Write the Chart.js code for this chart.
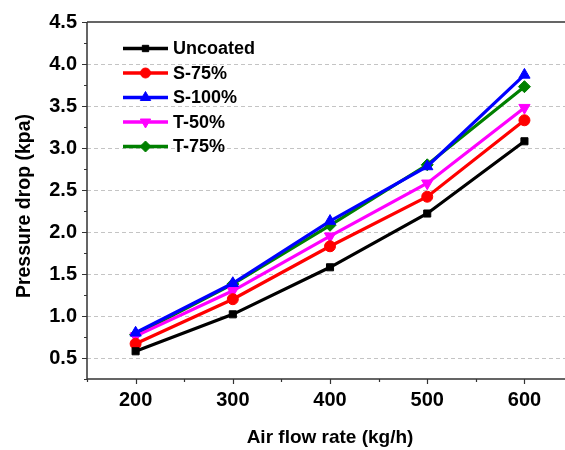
<!DOCTYPE html>
<html>
<head>
<meta charset="utf-8">
<script src="https://cdn.jsdelivr.net/npm/chart.js@4.4.1/dist/chart.umd.min.js"></script>
<style>
html,body{margin:0;padding:0;background:#fff;}
#wrap{width:565px;height:450px;position:relative;}
</style>
</head>
<body>
<div id="wrap"><canvas id="c" width="565" height="450"></canvas></div>
<script>
const airFlow = [200, 300, 400, 500, 600];
const uncoated = [0.58, 1.02, 1.58, 2.22, 3.08];
const s75 = [0.67, 1.20, 1.83, 2.42, 3.33];
const s100 = [0.80, 1.39, 2.13, 2.78, 3.87];
const t50 = [0.76, 1.30, 1.95, 2.58, 3.48];
const t75 = [0.78, 1.38, 2.08, 2.80, 3.73];
const seriesNames = ['Uncoated', 'S-75%', 'S-100%', 'T-50%', 'T-75%'];
const xTickLabels = [200, 300, 400, 500, 600];
const yTickLabels = [0.5, 1.0, 1.5, 2.0, 2.5, 3.0, 3.5, 4.0, 4.5];
const xTitle = 'Air flow rate (kg/h)';
const yTitle = 'Pressure drop (kpa)';

const FONT = "'Liberation Sans', Arial, sans-serif";
const styles = [
  {color: '#000000', pointStyle: 'rect', radius: 5, rotation: 0},
  {color: '#ff0000', pointStyle: 'circle', radius: 5.5, rotation: 0},
  {color: '#0000ff', pointStyle: 'triangle', radius: 6.5, rotation: 0},
  {color: '#ff00ff', pointStyle: 'triangle', radius: 6.5, rotation: 180},
  {color: '#008000', pointStyle: 'rectRot', radius: 6, rotation: 0}
];
const values = [uncoated, s75, s100, t50, t75];

const datasets = values.map((v, i) => ({
  label: seriesNames[i],
  data: airFlow.map((x, j) => ({x: x, y: v[j]})),
  borderColor: styles[i].color,
  backgroundColor: styles[i].color,
  borderWidth: 3.2,
  pointStyle: styles[i].pointStyle,
  pointRadius: styles[i].radius,
  pointRotation: styles[i].rotation,
  pointBorderWidth: 1,
  tension: 0
}));

const gridPlugin = {
  id: 'gridPlugin',
  beforeDatasetsDraw(chart) {
    const ctx = chart.ctx;
    const a = chart.chartArea;
    const ys = chart.scales.y;
    ctx.save();
    ctx.strokeStyle = '#c4c4c4';
    ctx.lineWidth = 1;
    ctx.setLineDash([4, 3]);
    ctx.beginPath();
    yTickLabels.forEach(v => {
      if (v >= 4.49) return;
      const p = Math.round(ys.getPixelForValue(v)) + 0.5;
      ctx.moveTo(a.left, p); ctx.lineTo(chart.width, p);
    });
    ctx.stroke();
    ctx.restore();
  }
};

const axisPlugin = {
  id: 'axisPlugin',
  afterDraw(chart) {
    const ctx = chart.ctx;
    const a = chart.chartArea;
    const xs = chart.scales.x, ys = chart.scales.y;
    const W = chart.width;
    ctx.save();
    ctx.strokeStyle = '#333333';
    ctx.lineWidth = 1.5;
    ctx.beginPath();
    ctx.moveTo(a.left, a.top); ctx.lineTo(W, a.top);
    ctx.moveTo(a.left, a.top); ctx.lineTo(a.left, a.bottom);
    ctx.moveTo(a.left, a.bottom); ctx.lineTo(W, a.bottom);
    ctx.stroke();
    ctx.lineWidth = 1.2;
    ctx.beginPath();
    for (let v = 0.25; v <= 4.5001; v += 0.25) {
      const p = Math.round(ys.getPixelForValue(v)) + 0.5;
      const major = Math.abs(v * 2 - Math.round(v * 2)) < 1e-6;
      const len = major ? 5 : 3;
      ctx.moveTo(a.left - len, p); ctx.lineTo(a.left, p);
    }
    for (let v = 150; v <= xs.max; v += 50) {
      const p = Math.round(xs.getPixelForValue(v)) + 0.5;
      const major = v % 100 === 0;
      const len = major ? 5 : 3;
      ctx.moveTo(p, a.bottom); ctx.lineTo(p, a.bottom + len);
    }
    ctx.stroke();
    ctx.restore();

    // axis titles
    ctx.save();
    ctx.fillStyle = '#000';
    ctx.font = "bold 19px " + FONT;
    ctx.textAlign = 'center';
    ctx.textBaseline = 'middle';
    const xc = xs.getPixelForValue(400);
    ctx.fillText(xTitle, xc, 438);
    ctx.translate(25, 206);
    ctx.rotate(-Math.PI / 2);
    ctx.font = "bold 19.5px " + FONT;
    ctx.fillText(yTitle, 0, 0);
    ctx.restore();

    // legend
    ctx.save();
    const lx0 = 123, lx1 = 168, ty0 = 48.5, dy = 24.5;
    ctx.font = "bold 18px " + FONT;
    ctx.textBaseline = 'middle';
    ctx.textAlign = 'left';
    chart.data.datasets.forEach((ds, i) => {
      const y = ty0 + i * dy;
      ctx.strokeStyle = ds.borderColor;
      ctx.lineWidth = 3.5;
      ctx.beginPath(); ctx.moveTo(lx0, y); ctx.lineTo(lx1, y); ctx.stroke();
      ctx.fillStyle = ds.backgroundColor;
      ctx.lineWidth = 1;
      Chart.helpers.drawPoint(ctx, {pointStyle: ds.pointStyle, radius: ds.pointRadius - 0.5, rotation: ds.pointRotation, borderWidth: 1}, (lx0 + lx1) / 2, y);
      ctx.fillStyle = '#000';
      ctx.fillText(ds.label, 173, y + 1);
    });
    ctx.restore();
  }
};

new Chart(document.getElementById('c'), {
  type: 'line',
  data: {datasets: datasets},
  plugins: [gridPlugin, axisPlugin],
  options: {
    responsive: false,
    animation: false,
    layout: {padding: {left: 0, right: 0, top: 20, bottom: 0}},
    plugins: {legend: {display: false}, tooltip: {enabled: false}},
    scales: {
      x: {
        type: 'linear',
        min: 150,
        max: 634,
        afterBuildTicks(scale) {
          scale.ticks = xTickLabels.map(v => ({value: v}));
        },
        ticks: {
          autoSkip: false,
          maxRotation: 0,
          padding: 9,
          color: '#000',
          font: {family: FONT, size: 20, weight: 'bold'},
          callback: v => String(v)
        },
        grid: {display: false, drawTicks: false},
        border: {display: false},
        title: {display: false},
        afterFit(scale) { scale.height = 71; }
      },
      y: {
        type: 'linear',
        min: 0.25,
        max: 4.5,
        afterBuildTicks(scale) {
          scale.ticks = yTickLabels.map(v => ({value: v}));
        },
        ticks: {
          autoSkip: false,
          padding: 10,
          color: '#000',
          font: {family: FONT, size: 20, weight: 'bold'},
          callback: v => Number(v).toFixed(1)
        },
        grid: {display: false, drawTicks: false},
        border: {display: false},
        title: {display: false},
        afterFit(scale) { scale.width = 87; }
      }
    }
  }
});
</script>
</body>
</html>
